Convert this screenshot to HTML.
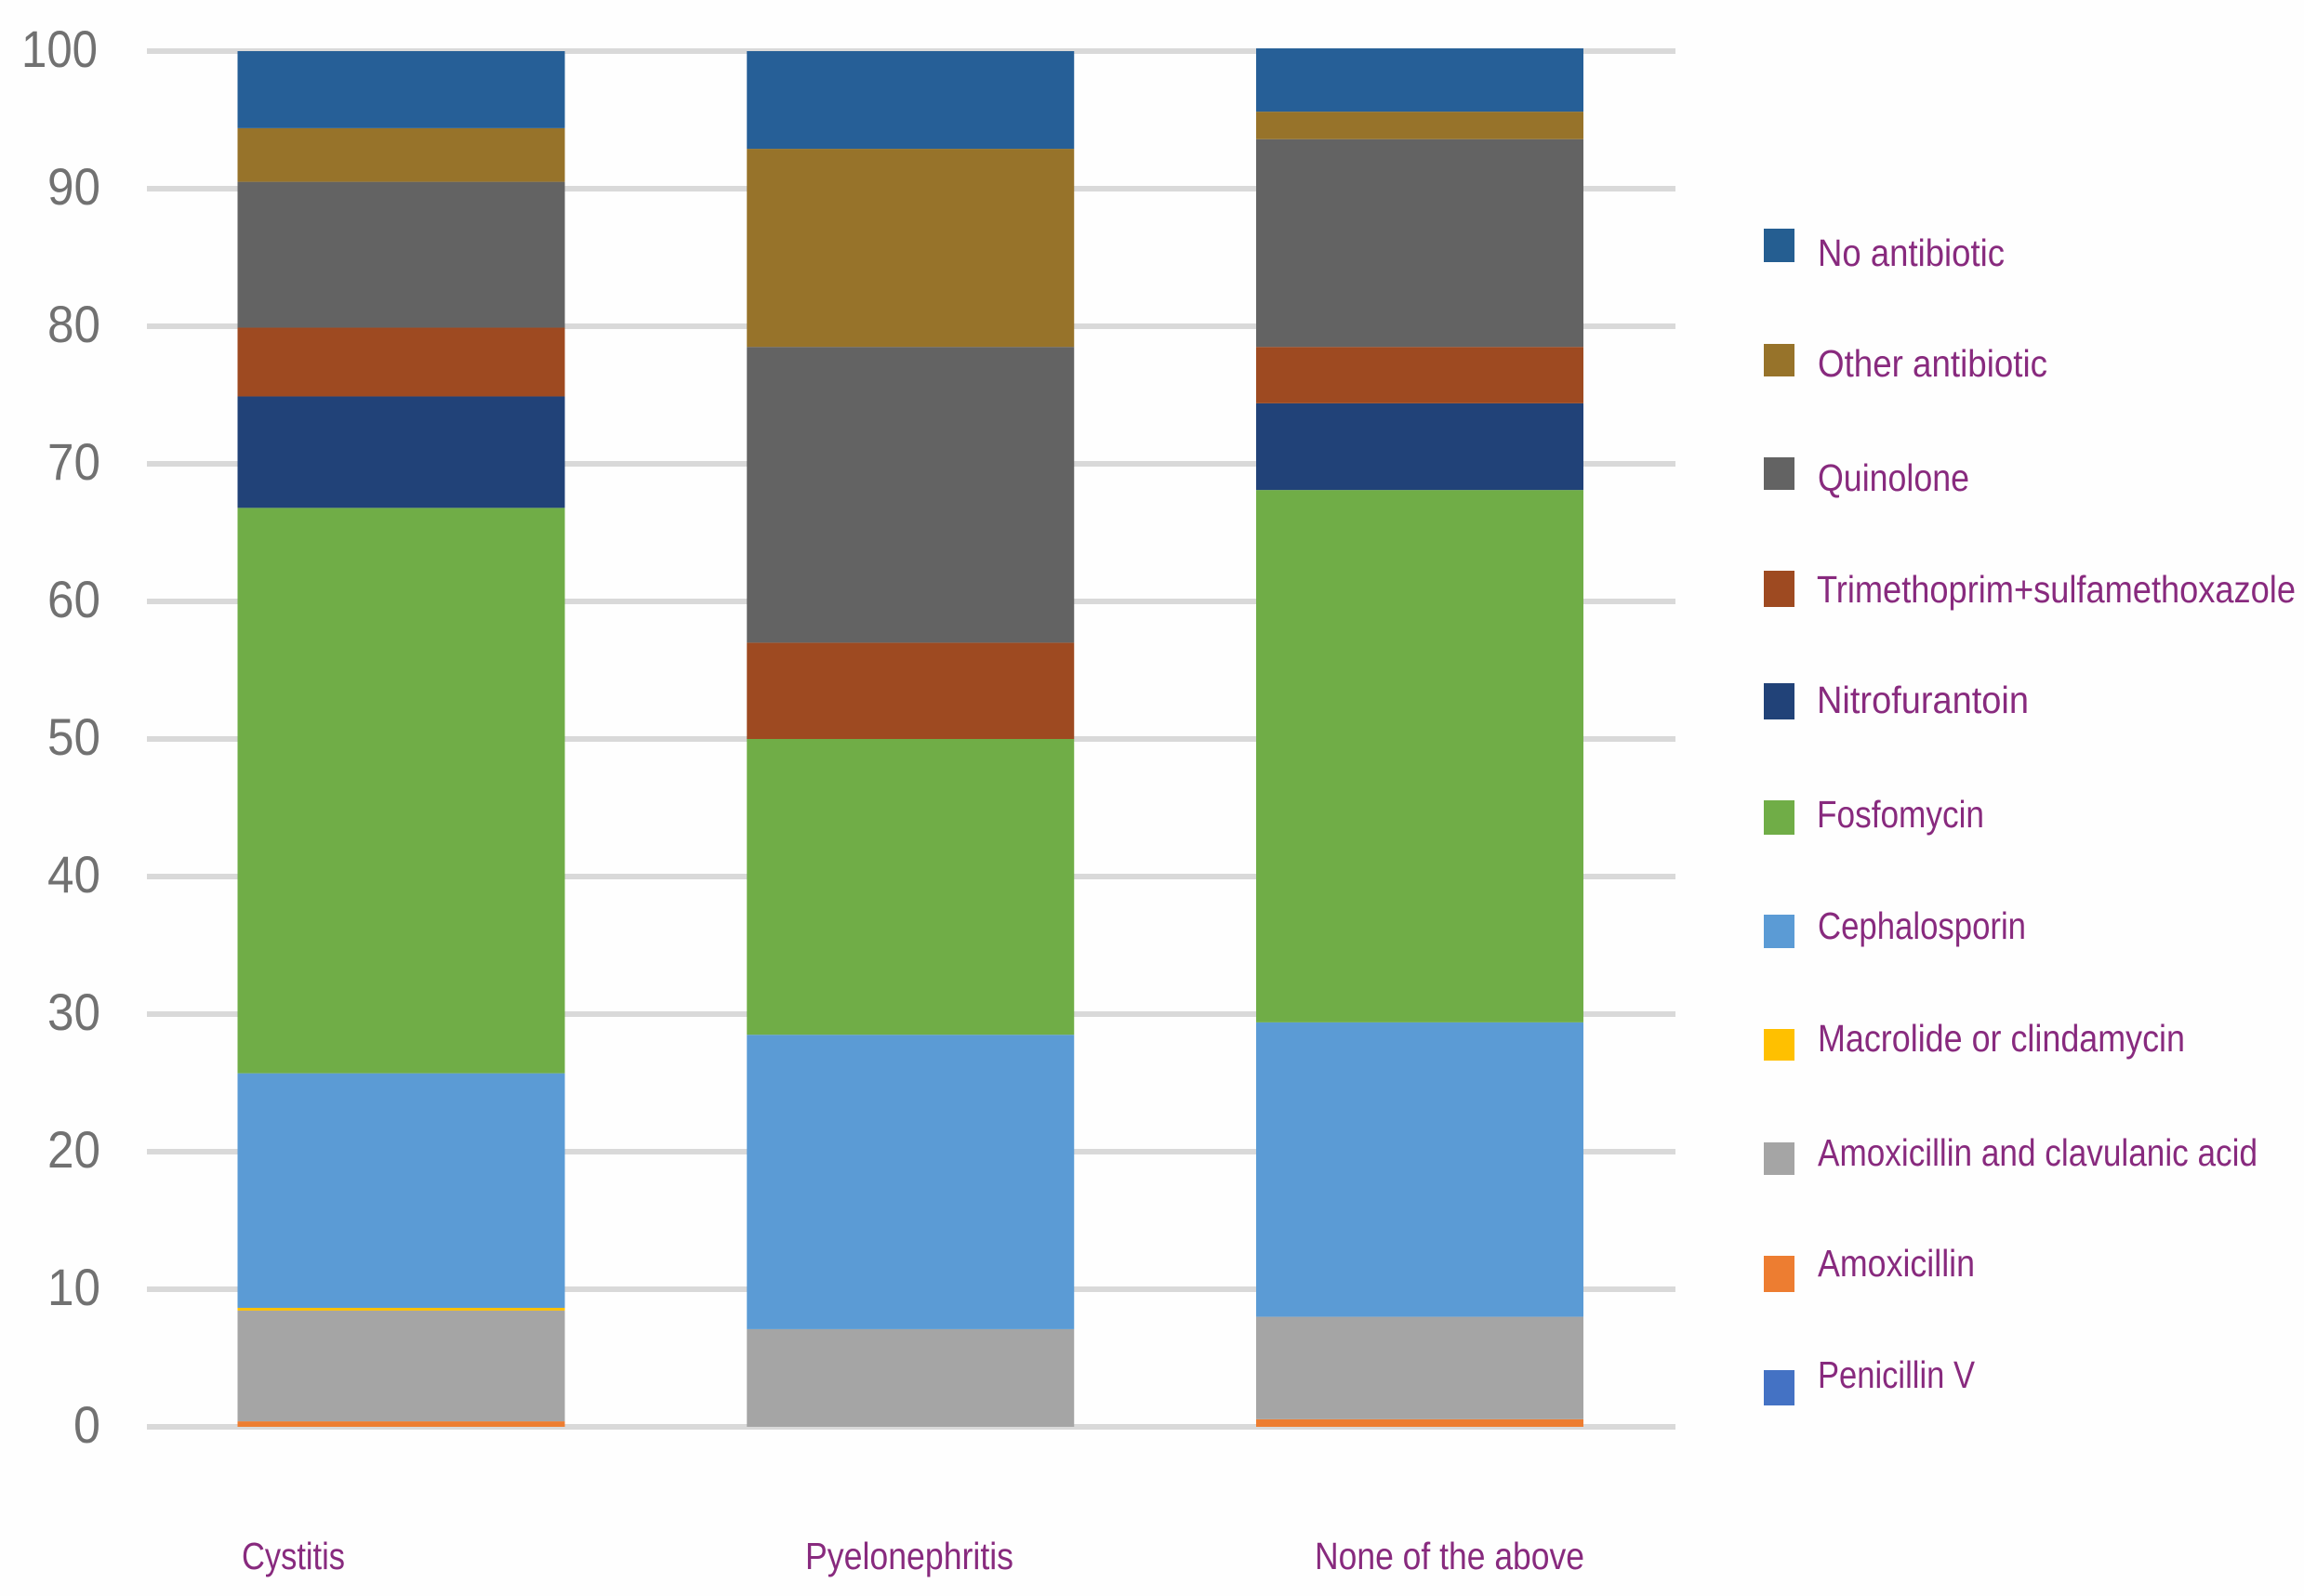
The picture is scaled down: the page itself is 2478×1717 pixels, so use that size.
<!DOCTYPE html>
<html lang="en">
<head>
<meta charset="utf-8">
<title>Antibiotic choice by diagnosis</title>
<style>
html,body{margin:0;padding:0;background:#fefefe;width:2478px;height:1717px;overflow:hidden}
svg{display:block}
text{font-family:"Liberation Sans",sans-serif}
.lbl{font-size:41px;fill:#882a7e}
.tick{font-size:56px;fill:#717171}
</style>
</head>
<body>
<svg id="chart" width="2478" height="1717" viewBox="0 0 2478 1717" xmlns="http://www.w3.org/2000/svg">
  <rect x="0" y="0" width="2478" height="1717" fill="#fefefe"/>
  <g id="grid"></g>
  <g id="yticks"></g>
  <g id="bars"></g>

  <g>
    <text class="lbl" x="260" y="1688" textLength="111" lengthAdjust="spacingAndGlyphs">Cystitis</text>
    <text class="lbl" x="866" y="1688" textLength="224" lengthAdjust="spacingAndGlyphs">Pyelonephritis</text>
    <text class="lbl" x="1414" y="1688" textLength="290" lengthAdjust="spacingAndGlyphs">None of the above</text>
  </g>

  <g>
    <g><rect x="1897" y="246" width="33" height="36" fill="#255e91"/><text class="lbl" x="1955" y="286" textLength="201" lengthAdjust="spacingAndGlyphs">No antibiotic</text></g>
    <g><rect x="1897" y="370" width="33" height="35" fill="#97732a"/><text class="lbl" x="1955" y="405" textLength="247" lengthAdjust="spacingAndGlyphs">Other antibiotic</text></g>
    <g><rect x="1897" y="492" width="33" height="35" fill="#636363"/><text class="lbl" x="1955" y="528" textLength="163" lengthAdjust="spacingAndGlyphs">Quinolone</text></g>
    <g><rect x="1897" y="614" width="33" height="39" fill="#9e4a21"/><text class="lbl" x="1954" y="648" textLength="515" lengthAdjust="spacingAndGlyphs">Trimethoprim+sulfamethoxazole</text></g>
    <g><rect x="1897" y="735" width="33" height="39" fill="#214278"/><text class="lbl" x="1954" y="767" textLength="228" lengthAdjust="spacingAndGlyphs">Nitrofurantoin</text></g>
    <g><rect x="1897" y="861" width="33" height="37" fill="#70ad47"/><text class="lbl" x="1954" y="890" textLength="180" lengthAdjust="spacingAndGlyphs">Fosfomycin</text></g>
    <g><rect x="1897" y="984" width="33" height="36" fill="#5b9bd5"/><text class="lbl" x="1955" y="1010" textLength="224" lengthAdjust="spacingAndGlyphs">Cephalosporin</text></g>
    <g><rect x="1897" y="1107" width="33" height="34" fill="#ffc000"/><text class="lbl" x="1955" y="1131" textLength="395" lengthAdjust="spacingAndGlyphs">Macrolide or clindamycin</text></g>
    <g><rect x="1897" y="1229" width="33" height="35" fill="#a5a5a5"/><text class="lbl" x="1955" y="1254" textLength="473" lengthAdjust="spacingAndGlyphs">Amoxicillin and clavulanic acid</text></g>
    <g><rect x="1897" y="1351" width="33" height="39" fill="#ed7d31"/><text class="lbl" x="1955" y="1373" textLength="169" lengthAdjust="spacingAndGlyphs">Amoxicillin</text></g>
    <g><rect x="1897" y="1474" width="33" height="38" fill="#4472c4"/><text class="lbl" x="1955" y="1493" textLength="169" lengthAdjust="spacingAndGlyphs">Penicillin V</text></g>
  </g>
</svg>

<script>
const categories = ["Cystitis", "Pyelonephritis", "None of the above"];
const yTicks = [0, 10, 20, 30, 40, 50, 60, 70, 80, 90, 100];
const seriesNames = ["Penicillin V", "Amoxicillin", "Amoxicillin and clavulanic acid", "Macrolide or clindamycin", "Cephalosporin", "Fosfomycin", "Nitrofurantoin", "Trimethoprim+sulfamethoxazole", "Quinolone", "Other antibiotic", "No antibiotic"];
const seriesColors = ["#4472c4", "#ed7d31", "#a5a5a5", "#ffc000", "#5b9bd5", "#70ad47", "#214278", "#9e4a21", "#636363", "#97732a", "#265f97"];
const penicillinV = [0, 0, 0];
const amoxicillin = [0.4, 0, 0.55];
const amoxClav = [8.05, 7.1, 7.45];
const macrolide = [0.2, 0, 0];
const cephalosporin = [17.05, 21.4, 21.4];
const fosfomycin = [41.1, 21.5, 38.7];
const nitrofurantoin = [8.1, 0, 6.3];
const trimethoprim = [5, 7, 4.1];
const quinolone = [10.6, 21.5, 15.1];
const otherAntibiotic = [3.9, 14.4, 2];
const noAntibiotic = [5.6, 7.1, 4.6];

const seriesValues = [penicillinV, amoxicillin, amoxClav, macrolide, cephalosporin, fosfomycin, nitrofurantoin, trimethoprim, quinolone, otherAntibiotic, noAntibiotic];

const NS = "http://www.w3.org/2000/svg";
const plotLeft = 158, plotRight = 1802, plotBottom = 1535, plotTop = 55;
const barWidth = 352;
function yScale(v) { return plotBottom - (plotBottom - plotTop) * v / 100; }
function xScale(i) { return 431.5 + i * 547.75; }
function slug(s) { return s.toLowerCase().replace(/[^a-z0-9]+/g, "-").replace(/^-|-$/g, ""); }
function make(tag, attrs) {
  const el = document.createElementNS(NS, tag);
  for (const k in attrs) el.setAttribute(k, attrs[k]);
  return el;
}

const gridG = document.getElementById("grid");
const tickG = document.getElementById("yticks");
yTicks.forEach(function (t) {
  const line = make("rect", { x: plotLeft, y: yScale(t) - 3, width: plotRight - plotLeft, height: 6, fill: "#d9d9d9" });
  
  
  gridG.appendChild(line);

  const label = String(t);
  const txt = make("text", {
    class: "tick", x: label.length === 3 ? 105 : 108, y: yScale(t) + 17, "text-anchor": "end",
    textLength: label.length === 3 ? 82 : (label.length === 2 ? 57 : 29), lengthAdjust: "spacingAndGlyphs"
  });
  txt.textContent = label;
  
  
  tickG.appendChild(txt);
});

const barsG = document.getElementById("bars");
categories.forEach(function (cat, c) {
  let cum = 0;
  const group = make("g", {});
  
  
  seriesValues.forEach(function (vals, s) {
    const v = vals[c];
    if (v > 0) {
      const top = yScale(cum + v), bottom = yScale(cum);
      const seg = make("rect", { x: xScale(c) - barWidth / 2, y: top, width: barWidth, height: bottom - top, fill: seriesColors[s] });
      
      
      group.appendChild(seg);
    }
    cum += v;
  });
  barsG.appendChild(group);
});
</script>
</body>
</html>
